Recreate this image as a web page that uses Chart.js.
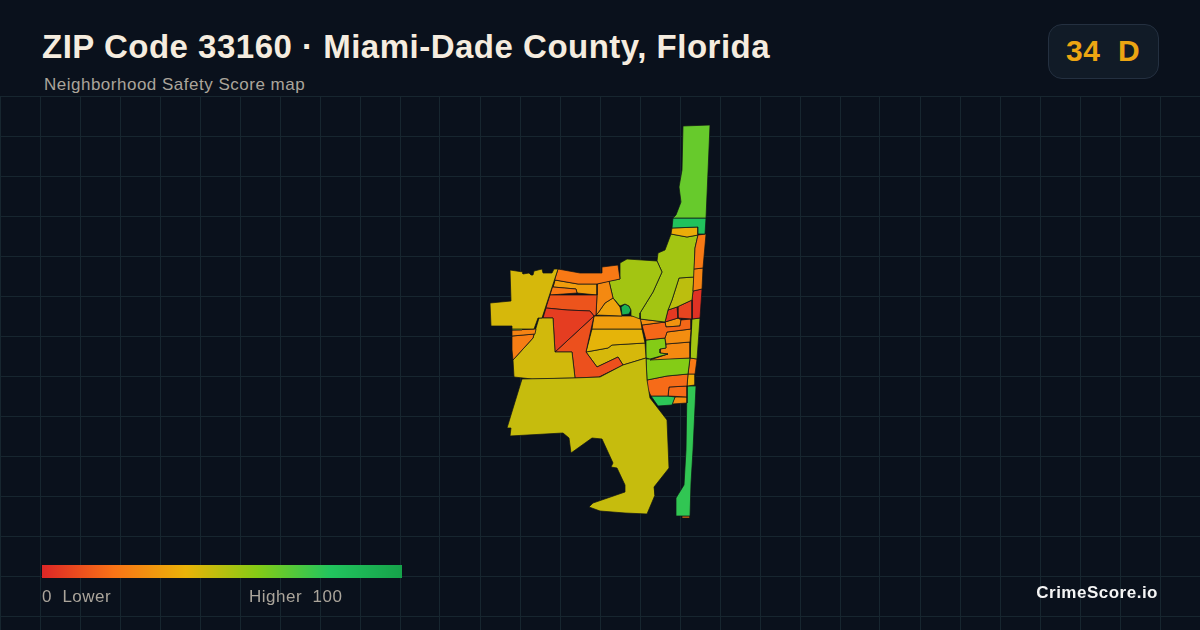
<!DOCTYPE html>
<html>
<head>
<meta charset="utf-8">
<script src="https://cdn.jsdelivr.net/npm/chart.js@4"></script>
<style>
  html, body { margin: 0; padding: 0; background: #0a111c; }
  #page { position: relative; width: 1200px; height: 630px; overflow: hidden; background: #0a111c; font-family: "Liberation Sans", Arial, sans-serif; }
  #mapBox { position: absolute; left: 0; top: 96px; width: 1200px; height: 534px; }
  .txt { position: absolute; white-space: pre; }
  #title { left: 42px; top: 27px; font-size: 33px; line-height: 40px; font-weight: 700; color: #f5ecdf; letter-spacing: 0.5px; }
  #subtitle { left: 44px; top: 75px; font-size: 17px; line-height: 20px; color: #aba59b; letter-spacing: 0.5px; }
  #badge { position: absolute; left: 1048px; top: 24px; width: 109px; height: 53px; border: 1px solid #243040; border-radius: 14px; background: #111b27; }
  #badgeText { left: 1066px; top: 33px; font-size: 30px; line-height: 36px; font-weight: 700; color: #eca512; letter-spacing: 0.5px; }
  #scaleBar { position: absolute; left: 42px; top: 565px; width: 360px; height: 13px; }
  #scaleLow { left: 42px; top: 587px; font-size: 17px; line-height: 20px; color: #aba59b; letter-spacing: 0.5px; }
  #scaleHigh { left: 249px; top: 587px; font-size: 17px; line-height: 20px; color: #aba59b; letter-spacing: 0.5px; }
  #brand { right: 42px; top: 583px; font-size: 17px; line-height: 20px; font-weight: 700; color: #f5f5f5; letter-spacing: 0.5px; }
</style>
</head>
<body>
<div id="page">
  <div id="mapBox"><canvas id="mapChart" width="1200" height="534"></canvas></div>
  <div class="txt" id="title">ZIP Code 33160 · Miami-Dade County, Florida</div>
  <div class="txt" id="subtitle">Neighborhood Safety Score map</div>
  <div id="badge"></div>
  <div class="txt" id="badgeText">34  D</div>
  <div id="scaleBar"></div>
  <div class="txt" id="scaleLow">0  Lower</div>
  <div class="txt" id="scaleHigh">Higher  100</div>
  <div class="txt" id="brand">CrimeScore.io</div>
</div>
<script>
// score colour ramp
const scaleStops = [0, 20, 40, 60, 80, 100];
const scaleColors = ['#dc2626', '#f97316', '#eab308', '#84cc16', '#22c55e', '#16a34a'];

// grid of the map
const gridX = [0, 40, 80, 120, 160, 200, 240, 280, 320, 360, 400, 440, 480, 520, 560, 600, 640, 680, 720, 760, 800, 840, 880, 920, 960, 1000, 1040, 1080, 1120, 1160, 1200];
const gridY = [96, 136, 176, 216, 256, 296, 336, 376, 416, 456, 496, 536, 576, 616];

// tract scores, same order as tractShapes
const tractScores = [47, 44, 58, 25, 23, 45, 6, 11, 12, 22, 33, 27, 35, 54, 92, 33, 41, 44,
    66, 82, 38, 22, 25, 54, 49, 5, 8, 3, 28, 17, 30, 28, 60, 27, 60, 18, 18, 78, 28, 54, 22, 38, 77, 22];

const tractShapes = [
    [522,379, 573,378, 600,377, 623,365, 646,358, 647,380, 650,398, 667,420, 669,468, 654,487, 655,495, 647,514, 625,513, 600,511, 589,507, 593,503, 625,492, 625,485, 617,468, 611,467, 613,463, 602,439, 592,438, 571,453, 569,438, 563,433, 510,436, 511,428, 507,428],
    [510,270, 523,272, 523,274, 529,273, 531,275, 533,275, 534,271, 542,269, 543,273, 552,273, 554,269, 558,269, 542,318, 538,318, 534,329, 512,329, 512,326, 491,326, 490,303, 511,301],
    [512,326, 521,325, 523,329, 522,330, 512,330],
    [512,330, 536,329, 535,334, 512,336],
    [512,336, 534,334, 533,338, 513,360, 512,350],
    [513,360, 533,338, 539,318, 553,318, 555,352, 572,352, 575,378, 532,379, 514,377],
    [546,308, 567,310, 590,311, 594,316, 555,352, 553,318, 543,318],
    [594,316, 586,352, 597,367, 618,357, 623,365, 599,377, 575,378, 572,352, 555,352],
    [550,295, 597,295, 596,315, 594,316, 590,311, 567,310, 546,308, 543,317],
    [558,269, 580,273, 602,273, 602,267, 618,265, 620,279, 597,284, 578,284, 555,280, 553,287, 576,289, 577,293, 550,295],
    [555,280, 578,284, 597,284, 597,295, 577,293, 576,289, 553,287],
    [597,284, 609,281, 613,298, 605,303, 598,313, 596,315, 597,295],
    [596,315, 598,313, 605,303, 613,298, 620,307, 622,316],
    [620,263, 627,259, 657,261, 662,272, 653,292, 640,313, 640,319, 632,316, 631,310, 629,306, 625,304, 620,306, 613,298, 609,281, 620,279],
    [621,307, 625,304, 629,306, 631,310, 629,314, 622,315],
    [594,316, 640,316, 642,329, 592,329],
    [592,329, 642,329, 645,343, 612,345, 608,348, 586,352],
    [586,352, 608,348, 612,345, 645,343, 646,358, 623,365, 618,357, 597,367],
    [683,126, 710,125, 706,218, 673,218, 676,215, 681,202, 679,187, 682,170],
    [673,218, 706,218, 705,234, 698,234, 698,227, 672,228],
    [672,228, 698,227, 698,235, 687,237, 671,234],
    [698,235, 706,234, 703,268, 694,269, 695,248],
    [694,269, 703,268, 702,289, 693,291],
    [658,253, 665,250, 671,234, 687,237, 698,235, 695,248, 694,277, 679,278, 672,300, 668,310, 665,322, 640,319, 640,313, 653,292, 662,272, 657,261],
    [679,278, 694,277, 693,291, 692,300, 677,307, 668,310, 672,300],
    [665,322, 668,310, 677,307, 678,318],
    [677,307, 692,300, 692,319, 678,318],
    [693,291, 702,289, 700,318, 692,319, 692,300],
    [640,319, 665,322, 642,325],
    [642,325, 665,322, 666,327, 680,326, 681,320, 691,319, 691,329, 667,332, 665,338, 646,340],
    [665,322, 678,318, 681,320, 680,326, 666,327],
    [667,332, 691,329, 690,342, 666,344, 665,338],
    [646,340, 665,338, 666,348, 660,349, 660,353, 668,354, 650,359, 646,358],
    [666,344, 690,342, 690,358, 650,360, 668,354, 660,353, 660,349, 666,348],
    [646,359, 690,358, 688,374, 667,376, 647,380],
    [647,380, 667,376, 688,374, 687,386, 669,387, 668,396, 651,396, 647,388],
    [669,387, 687,386, 687,397, 668,396],
    [651,396, 668,396, 675,397, 672,405, 658,406],
    [675,397, 687,397, 687,403, 672,404],
    [692,319, 700,318, 697,359, 690,358],
    [690,358, 697,359, 695,374, 688,374],
    [688,374, 695,374, 695,385, 687,386],
    [687,386, 696,386, 693,450, 691,483, 690,516, 676,516, 676,498, 684,485, 686,450],
    [682,516, 690,516, 690,518, 682,518]
];

function hexToRgb(hex) {
    return [1, 3, 5].map(i => parseInt(hex.substr(i, 2), 16));
}

function scoreColor(score) {
    let i = 0;
    while (i < scaleStops.length - 2 && score > scaleStops[i + 1]) i++;
    const t = (score - scaleStops[i]) / (scaleStops[i + 1] - scaleStops[i]);
    const a = hexToRgb(scaleColors[i]);
    const b = hexToRgb(scaleColors[i + 1]);
    const c = a.map((v, k) => Math.round(v + (b[k] - v) * t));
    return `rgb(${c[0]},${c[1]},${c[2]})`;
}

function shapeToPoints(shape) {
    const pts = [];
    for (let i = 0; i < shape.length; i += 2) {
        pts.push({ x: shape[i], y: shape[i + 1] });
    }
    pts.push({ x: shape[0], y: shape[1] }); // close the ring
    return pts;
}

document.getElementById('scaleBar').style.background = 'linear-gradient(to right, ' +
    scaleColors.map((c, i) => `${c} ${scaleStops[i]}%`).join(', ') + ')';

const datasets = tractShapes.map((shape, i) => ({
    data: shapeToPoints(shape),
    showLine: true,
    fill: 'shape',
    backgroundColor: scoreColor(tractScores[i]),
    borderColor: 'rgba(16, 20, 22, 0.9)',
    borderWidth: 0.8,
    borderJoinStyle: 'round',
    tension: 0,
    pointRadius: 0,
    pointHoverRadius: 0
}));

new Chart(document.getElementById('mapChart'), {
    type: 'scatter',
    data: { datasets: datasets },
    options: {
        responsive: false,
        animation: false,
        layout: { padding: 0 },
        plugins: { legend: { display: false }, tooltip: { enabled: false } },
        scales: {
            x: {
                type: 'linear', min: 0, max: 1200,
                afterBuildTicks: axis => { axis.ticks = gridX.map(v => ({ value: v })); },
                ticks: { display: false },
                grid: { color: '#17262f', lineWidth: 1, drawTicks: false },
                border: { display: false }
            },
            y: {
                type: 'linear', min: 96, max: 630, reverse: true,
                afterBuildTicks: axis => { axis.ticks = gridY.map(v => ({ value: v })); },
                ticks: { display: false },
                grid: { color: '#17262f', lineWidth: 1, drawTicks: false },
                border: { display: false }
            }
        }
    }
});
</script>
</body>
</html>
